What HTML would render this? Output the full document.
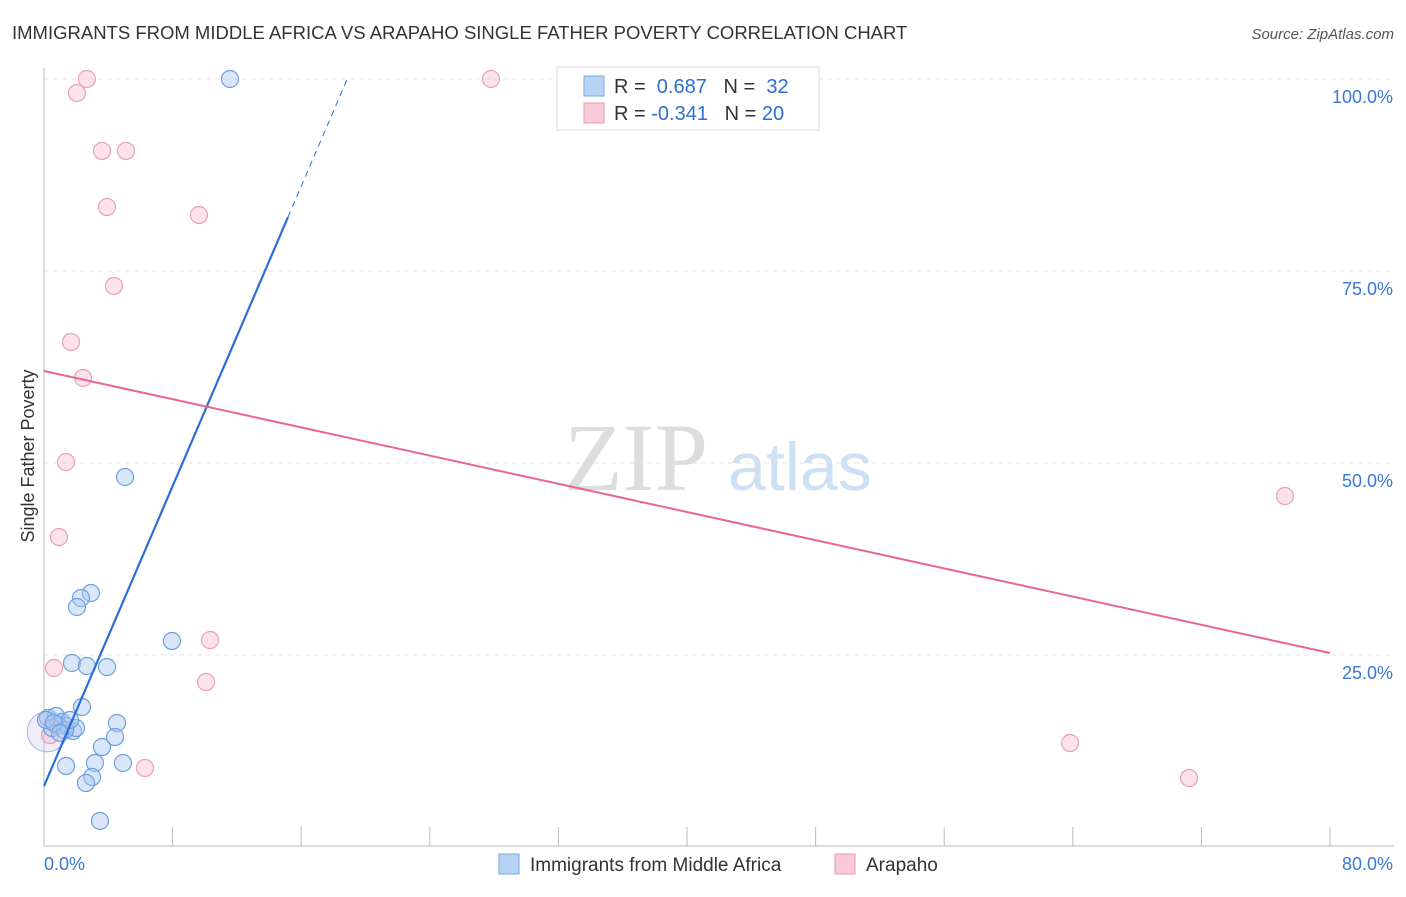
<!DOCTYPE html>
<html><head><meta charset="utf-8"><style>
body{margin:0;background:#fff;font-family:"Liberation Sans",sans-serif;}
</style></head><body>
<svg width="1406" height="892" xmlns="http://www.w3.org/2000/svg" style="font-family:'Liberation Sans',sans-serif">
<text x="12" y="39" font-size="18.5" fill="#333">IMMIGRANTS FROM MIDDLE AFRICA VS ARAPAHO SINGLE FATHER POVERTY CORRELATION CHART</text>
<text x="1394" y="39" font-size="15" fill="#555" text-anchor="end" font-style="italic">Source: ZipAtlas.com</text>
<g id="grid"></g>
<text x="636" y="490" font-size="96" fill="#ddd" font-family="Liberation Serif,serif" text-anchor="middle">ZIP</text>
<text x="800" y="490" font-size="68" fill="#cfe0f4" text-anchor="middle">atlas</text>
<text transform="translate(34,456) rotate(-90)" font-size="18" fill="#333" text-anchor="middle">Single Father Poverty</text>
<g id="pts"></g>
<g id="lines"></g>
<g>
<rect x="557" y="67" width="262" height="63" fill="#fff" stroke="#ddd"/>
<rect x="584" y="76" width="20" height="20" fill="#b8d4f4" stroke="#7aa7e0"/>
<text x="614" y="93" font-size="20" fill="#333">R = <tspan fill="#2e6fd1">&#160;0.687</tspan>&#160;&#160;&#160;N = <tspan fill="#2e6fd1">&#160;32</tspan></text>
<rect x="584" y="103" width="20" height="20" fill="#f8c9d6" stroke="#e99ab0"/>
<text x="614" y="120" font-size="20" fill="#333">R = <tspan fill="#2e6fd1">-0.341</tspan>&#160;&#160;&#160;N = <tspan fill="#2e6fd1">20</tspan></text>
</g>
<g>
<rect x="499" y="854" width="20" height="20" fill="#b8d4f4" stroke="#7aa7e0"/>
<text x="530" y="871" font-size="19" fill="#333">Immigrants from Middle Africa</text>
<rect x="835" y="854" width="20" height="20" fill="#f8c9d6" stroke="#e99ab0"/>
<text x="866" y="871" font-size="19" fill="#333">Arapaho</text>
</g>
</svg>
<script>
const blueX=[11.57,5.04,2.92,2.30,2.05,7.96,1.74,2.67,3.92,2.36,4.54,0.25,0.75,1.12,1.37,1.80,0.50,0.87,1.99,1.31,3.61,4.42,3.17,1.37,4.91,2.99,2.61,3.48,0.12,1.62,0.62,1.0];
const blueY=[100,48.18,33.07,32.42,31.25,26.82,23.96,23.57,23.44,18.23,16.15,16.80,17.06,16.28,15.76,15.10,15.49,15.89,15.49,15.23,13.02,14.32,10.94,10.55,10.94,9.11,8.33,3.39,16.54,16.54,16.15,14.84];
const pinkX=[2.67,27.81,2.05,3.61,5.10,3.92,9.64,4.35,1.68,2.43,1.37,0.93,10.33,0.62,10.08,6.28,63.83,71.23,77.2,0.37];
const pinkY=[100,100,98.18,90.63,90.63,83.33,82.29,73.05,65.76,61.07,50.13,40.36,26.95,23.31,21.48,10.29,13.54,8.98,45.70,14.58];
const yTicks=[25,50,75,100];
const xTickLabels=["0.0%","80.0%"];
const blueTrend=[7.94,4.88];
const pinkTrend=[61.98,-0.459];
const NS="http://www.w3.org/2000/svg";
const X=v=>44+v*1286/80, Y=v=>847-v*7.68;
function mk(t,a,p){const e=document.createElementNS(NS,t);for(const k in a)e.setAttribute(k,a[k]);p.appendChild(e);return e;}
const g=document.getElementById('grid');
yTicks.forEach(t=>{
 const l=mk('line',{x1:44,x2:1394,y1:Y(t),y2:Y(t),stroke:'#e4e4e4','stroke-dasharray':'5,4'},g);
 
 
 const tx=mk('text',{x:1393,y:Y(t)+24,'font-size':18,fill:'#3a78d6','text-anchor':'end'},g);
 tx.textContent=t.toFixed(1)+'%';
 
 
});
mk('line',{x1:44,x2:44,y1:68,y2:846,stroke:'#bbb'},g);
mk('line',{x1:44,x2:1394,y1:846,y2:846,stroke:'#bbb'},g);
for(let i=1;i<=10;i++){const t=mk('line',{x1:44+i*128.6,x2:44+i*128.6,y1:827,y2:846,stroke:'#bbb'},g);}
const t0=mk('text',{x:44,y:870,'font-size':18,fill:'#3a78d6'},g);t0.textContent=xTickLabels[0];


const t1=mk('text',{x:1393,y:870,'font-size':18,fill:'#3a78d6','text-anchor':'end'},g);t1.textContent=xTickLabels[1];


const p=document.getElementById('pts');
const big=mk('circle',{cx:X(0.2),cy:Y(15),r:20,fill:'rgba(200,180,230,0.25)',stroke:'#9ab7e6'},p);


pinkX.forEach((x,i)=>{const c=mk('circle',{cx:X(x),cy:Y(pinkY[i]),r:8.5,fill:'rgba(248,190,208,0.45)',stroke:'#eaa0b6','stroke-width':1.2},p);
 
 });
blueX.forEach((x,i)=>{const c=mk('circle',{cx:X(x),cy:Y(blueY[i]),r:8.5,fill:'rgba(170,200,240,0.45)',stroke:'#6f9fe0','stroke-width':1.2},p);
 
 });
const L=document.getElementById('lines');
const bEnd=15.18, bTop=(100-blueTrend[0])/blueTrend[1];
const bl=mk('line',{x1:X(0),y1:Y(blueTrend[0]),x2:X(bEnd),y2:Y(blueTrend[0]+blueTrend[1]*bEnd),stroke:'#2a6fd6','stroke-width':2.2},L);


const bd=mk('line',{x1:X(bEnd),y1:Y(blueTrend[0]+blueTrend[1]*bEnd),x2:X(bTop),y2:Y(100),stroke:'#2a6fd6','stroke-width':1,'stroke-dasharray':'6,5'},L);


const pl=mk('line',{x1:X(0),y1:Y(pinkTrend[0]),x2:X(80),y2:Y(pinkTrend[0]+pinkTrend[1]*80),stroke:'#e86690','stroke-width':2},L);


</script>
</body></html>
